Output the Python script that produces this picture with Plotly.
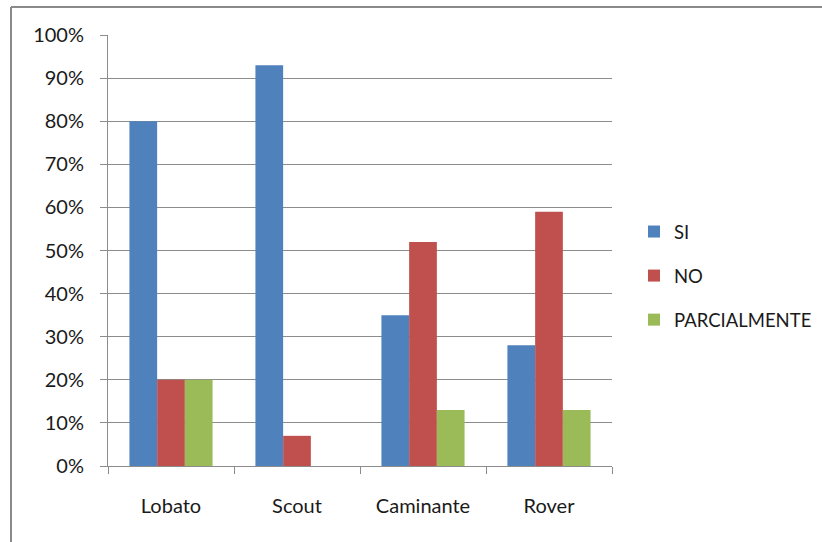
import plotly.graph_objects as go

categories = ["Lobato", "Scout", "Caminante", "Rover"]
si = [80, 93, 35, 28]
no = [20, 7, 52, 59]
parcialmente = [20, 0, 13, 13]
series_names = ["SI", "NO", "PARCIALMENTE"]
colors = ["#4F81BD", "#C0504D", "#9BBB59"]
y_ticks = list(range(0, 101, 10))
y_tick_labels = [f"{v}%" for v in y_ticks]

W, H = 822, 542
L, R, T, B = 108, 210, 35, 76
pw, ph = W - L - R, H - T - B

def px_x(p):
    return (p - L) / pw

def px_y(p):
    return (H - B - p) / ph

fig = go.Figure()
for i, (name, vals) in enumerate(zip(series_names, [si, no, parcialmente])):
    fig.add_trace(go.Bar(
        x=categories, y=vals, name=name,
        marker=dict(color=colors[i], line=dict(width=0)),
        legendgroup=name,
    ))

font = dict(family="Lato, 'Open Sans', sans-serif", size=20, color="#1a1a1a")

fig.update_layout(
    width=W, height=H,
    margin=dict(l=L, r=R, t=T, b=B, pad=0, autoexpand=False),
    paper_bgcolor="white", plot_bgcolor="white",
    barmode="group", bargap=0.34, bargroupgap=0,
    font=font,
    showlegend=True,
    legend=dict(
        x=px_x(634), y=px_y(213), xanchor="left", yanchor="top",
        font=dict(size=18.5, color="#1a1a1a"),
        tracegroupgap=17, traceorder="grouped",
        itemwidth=30, bgcolor="rgba(0,0,0,0)",
    ),
    xaxis=dict(
        showgrid=False, showline=True, linecolor="#8C8C8C", linewidth=1,
        ticks="outside", tickson="boundaries", ticklen=7, tickcolor="#8C8C8C",
        ticklabelstandoff=22,
    ),
    yaxis=dict(
        range=[0, 100], tickvals=y_ticks, ticktext=y_tick_labels,
        showgrid=True, gridcolor="#8C8C8C", gridwidth=1,
        showline=True, linecolor="#8C8C8C", linewidth=1,
        ticks="outside", ticklen=7, tickcolor="#8C8C8C",
        ticklabelstandoff=12, zeroline=False,
    ),
    shapes=[
        dict(type="line", xref="paper", yref="paper",
             x0=px_x(11), x1=px_x(822), y0=px_y(7), y1=px_y(7),
             line=dict(color="#8A8A8A", width=2)),
        dict(type="line", xref="paper", yref="paper",
             x0=px_x(11), x1=px_x(11), y0=px_y(7), y1=px_y(542),
             line=dict(color="#8A8A8A", width=2)),
    ],
)

fig.write_html("out.html")
